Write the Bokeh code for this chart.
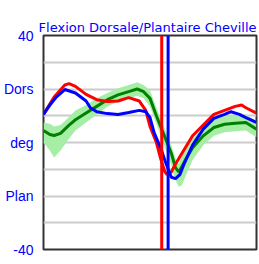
from bokeh.plotting import figure
from bokeh.models import FixedTicker, Span
from bokeh.embed import file_html
from bokeh.resources import INLINE

# gait cycle (%)
red_x = [0, 5, 10, 12, 15, 20, 25, 30, 35, 40, 45, 48, 50, 53, 55, 57, 58, 60, 62, 65, 70, 75, 80, 85, 90, 93, 95, 100]
red_y = [10.5, 17, 21.5, 22, 21, 18, 16, 15.3, 15.5, 16.8, 15.5, 12, 6, 0, -6, -11, -12, -11, -8, -4, 2.5, 6.5, 10.5, 12, 13.5, 14, 13, 11]

blue_x = [0, 3, 6, 10, 15, 20, 22, 25, 30, 35, 40, 45, 48, 50, 52, 55, 57, 60, 62, 64, 66, 70, 75, 80, 85, 88, 92, 95, 100]
blue_y = [10.5, 14, 17, 19.8, 18.5, 15.5, 13, 11.5, 10.8, 10.5, 11.2, 12, 11.5, 9.3, 3.5, -2, -6.7, -13, -13.5, -12, -8, -1, 5, 9, 10.5, 11.5, 10.5, 9.3, 7.5]

green_x = [0, 3, 5, 8, 12, 15, 20, 25, 30, 35, 40, 44, 47, 50, 53, 55, 58, 60, 62, 63.5, 65, 67, 70, 75, 80, 85, 90, 95, 100]
green_y = [4.5, 3, 2.6, 3.4, 6.5, 8.5, 11, 13.5, 16, 17.8, 19, 20, 19, 16.5, 10, 6, 0, -4, -9.5, -11, -9, -6, -2, 2.5, 5.6, 6.8, 7.2, 7.5, 5]
green_lo = [0, -3, -5.6, -3, 1.5, 4.5, 7.5, 10.5, 13.5, 15.3, 16.5, 17.5, 16.5, 13.5, 7, 2.5, -4, -8.5, -14, -16.5, -16, -12, -6.5, -1, 2.5, 3.8, 4.2, 4.5, 2]
green_hi = [7.5, 7, 6, 6.5, 9.5, 12, 14, 16.5, 18.5, 20.3, 21.5, 22.5, 21.5, 19.5, 13, 9, 3, -1, -6, -8, -5, -2, 1.5, 5.5, 8.6, 9.8, 10.2, 10.5, 8]

red_event = 55.5
blue_event = 58.5

y_ticks = [-40, -20, 0, 20, 40]
y_labels = {-40: "-40", -20: "Plan", 0: "deg", 20: "Dors", 40: "40"}
grid_ticks = [-30, -20, -10, 0, 10, 20, 30]
title_text = "Flexion Dorsale/Plantaire Cheville"

p = figure(width=259, height=264, x_range=(0, 100), y_range=(-40, 40),
           output_backend="svg", toolbar_location=None,
           min_border_left=40, min_border_right=3, min_border_top=35, min_border_bottom=15)
p.background_fill_color = "white"
p.border_fill_color = "white"
p.outline_line_color = "#333333"
p.outline_line_width = 2

p.title.text = title_text
p.title.text_color = "blue"
p.title.text_font = "DejaVu Sans"
p.title.text_font_size = "13px"
p.title.text_font_style = "normal"
p.title.align = "right"
p.title.standoff = 2
p.title.offset = 0

p.xaxis.visible = False
p.xgrid.visible = False
p.yaxis.ticker = FixedTicker(ticks=y_ticks)
p.yaxis.major_label_overrides = y_labels
p.yaxis.axis_line_color = None
p.yaxis.major_tick_line_color = None
p.yaxis.minor_tick_line_color = None
p.yaxis.major_label_standoff = 4
p.yaxis.major_label_text_color = "blue"
p.yaxis.major_label_text_font = "Liberation Sans"
p.yaxis.major_label_text_font_size = "14px"
p.ygrid.ticker = FixedTicker(ticks=grid_ticks)
p.ygrid.grid_line_color = "#cccccc"
p.ygrid.grid_line_width = 2

p.varea(x=green_x, y1=green_lo, y2=green_hi, color="#a6eea6")
p.line(green_x, green_y, line_color="#008000", line_width=3)
p.line(red_x, red_y, line_color="red", line_width=3)
p.line(blue_x, blue_y, line_color="blue", line_width=3)

p.add_layout(Span(location=red_event, dimension="height", line_color="red", line_width=3))
p.add_layout(Span(location=blue_event, dimension="height", line_color="blue", line_width=3))

open("out.html", "w").write(file_html(p, INLINE))
